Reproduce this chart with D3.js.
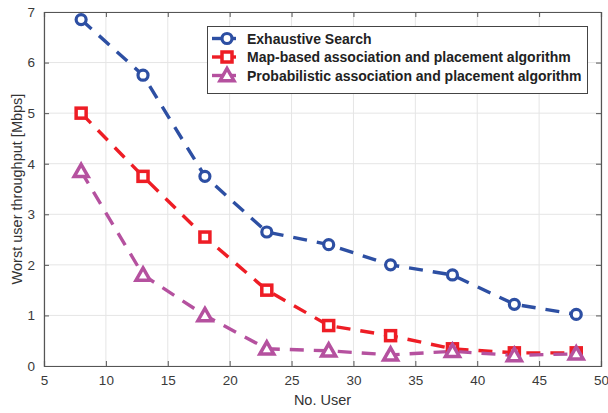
<!DOCTYPE html>
<html><head><meta charset="utf-8">
<script src="https://cdn.jsdelivr.net/npm/d3@7"></script>
<style>body{margin:0;background:#fff}svg{font-family:"Liberation Sans",Arial,sans-serif}</style>
</head><body><svg id="c" width="608" height="413"></svg>
<script>
const users = [8, 13, 18, 23, 28, 33, 38, 43, 48];
const exhaustive = [6.85, 5.75, 3.75, 2.65, 2.4, 2.0, 1.8, 1.22, 1.02];
const mapBased = [5.0, 3.75, 2.55, 1.5, 0.8, 0.6, 0.34, 0.26, 0.26];
const probabilistic = [3.85, 1.8, 1.0, 0.34, 0.3, 0.22, 0.29, 0.21, 0.24];
const xTicks = [5, 10, 15, 20, 25, 30, 35, 40, 45, 50];
const yTicks = [0, 1, 2, 3, 4, 5, 6, 7];
const seriesNames = ["Exhaustive Search", "Map-based association and placement algorithm", "Probabilistic association and placement algorithm"];
const colors = ["#2d4fa3", "#ee1d25", "#b5519f"];
const markers = ["circle", "square", "triangle"];

const svg = d3.select("#c");
const L = 44, R = 601, T = 12, B = 366;
const x = d3.scaleLinear().domain([5, 50]).range([L, R]);
const y = d3.scaleLinear().domain([0, 7]).range([B, T]);

// grid
const g = svg.append("g");
g.selectAll(".gx").data(xTicks).join("line").attr("x1", d => x(d)).attr("x2", d => x(d)).attr("y1", T).attr("y2", B).attr("stroke", "#e5e5e5").attr("stroke-width", 1);
g.selectAll(".gy").data(yTicks).join("line").attr("y1", d => y(d)).attr("y2", d => y(d)).attr("x1", L).attr("x2", R).attr("stroke", "#e5e5e5").attr("stroke-width", 1);

// axes
const fmt = d3.format("d");
const ax = svg.append("g").attr("transform", `translate(0,${B})`).call(d3.axisBottom(x).tickValues(xTicks).tickFormat(fmt).tickSize(-5).tickPadding(9));
const ay = svg.append("g").attr("transform", `translate(${L},0)`).call(d3.axisLeft(y).tickValues(yTicks).tickFormat(fmt).tickSize(-5).tickPadding(9));
const axT = svg.append("g").attr("transform", `translate(0,${T})`).call(d3.axisTop(x).tickValues(xTicks).tickSize(-5).tickFormat(""));
const ayR = svg.append("g").attr("transform", `translate(${R},0)`).call(d3.axisRight(y).tickValues(yTicks).tickSize(-5).tickFormat(""));
[ax, ay, axT, ayR].forEach(a => {
  a.select(".domain").attr("stroke", "#555").attr("stroke-width", 1.2);
  a.selectAll(".tick line").attr("stroke", "#555");
  a.selectAll("text").attr("fill", "#3a3a3a").attr("font-size", 13.5).attr("font-family", "Liberation Sans, Arial, sans-serif");
});

svg.append("text").attr("x", (L + R) / 2).attr("y", 405).attr("text-anchor", "middle").attr("font-size", 14.5).attr("fill", "#333").text("No. User");
svg.append("text").attr("transform", `translate(22,${(T + B) / 2}) rotate(-90)`).attr("text-anchor", "middle").attr("font-size", 14.5).attr("fill", "#333").text("Worst user throughput [Mbps]");

const all = [exhaustive, mapBased, probabilistic];
const line = d3.line().x((d, i) => x(users[i])).y(d => y(d));

function drawMarker(sel, type, color, cx, cy) {
  if (type === "circle") {
    sel.append("circle").attr("cx", cx).attr("cy", cy).attr("r", 5).attr("fill", "#fff").attr("stroke", color).attr("stroke-width", 3.2);
  } else if (type === "square") {
    sel.append("rect").attr("x", cx - 5).attr("y", cy - 5).attr("width", 10).attr("height", 10).attr("fill", "#fff").attr("stroke", color).attr("stroke-width", 3.5);
  } else {
    const s = 7;
    sel.append("path").attr("d", `M${cx},${cy - s}L${cx + s},${cy + s * 0.75}L${cx - s},${cy + s * 0.75}Z`).attr("fill", "#fff").attr("stroke", color).attr("stroke-width", 3.5).attr("stroke-linejoin", "miter");
  }
}

all.forEach((vals, k) => {
  svg.append("path").datum(vals).attr("d", line).attr("fill", "none").attr("stroke", colors[k]).attr("stroke-width", 3.4).attr("stroke-dasharray", "14,10");
});
all.forEach((vals, k) => {
  const mg = svg.append("g");
  vals.forEach((v, i) => drawMarker(mg, markers[k], colors[k], x(users[i]), y(v)));
});

// legend
const lg = svg.append("g");
lg.append("rect").attr("x", 207.5).attr("y", 26.5).attr("width", 380).attr("height", 67).attr("fill", "#fff").attr("stroke", "#444").attr("stroke-width", 1);
seriesNames.forEach((n, k) => {
  const ly = 38.5 + k * 18.5;
  lg.append("line").attr("x1", 212).attr("x2", 236).attr("y1", ly).attr("y2", ly).attr("stroke", colors[k]).attr("stroke-width", 3.4);
  drawMarker(lg, markers[k], colors[k], 227, ly);
  lg.append("text").attr("x", 247).attr("y", ly + 5).attr("font-size", 14).attr("font-weight", "bold").attr("fill", "#222").text(n);
});
</script></body></html>
